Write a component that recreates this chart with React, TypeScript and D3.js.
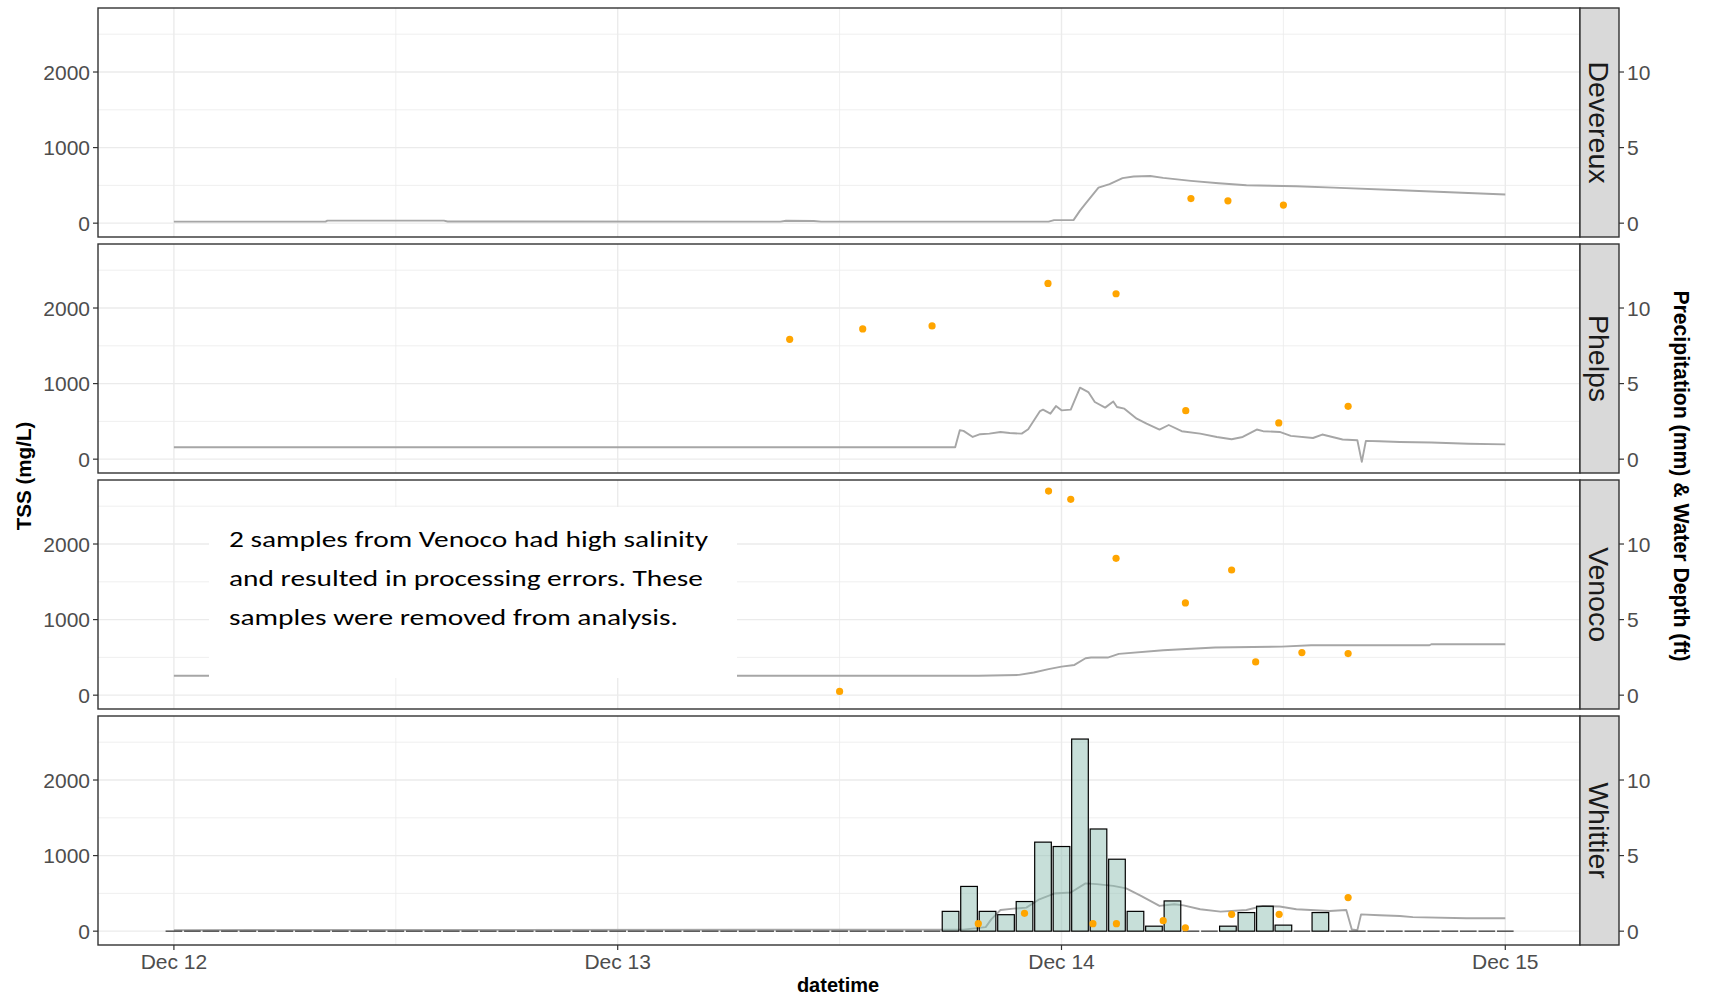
import React, { useEffect } from "react";
import * as d3 from "d3";

// time axis: hours after Dec 12 00:00
const BASE = Date.UTC(2019, 11, 12, 0, 0);
const hr = (h: number) => new Date(BASE + h * 3600000);

const sites = ["Devereux", "Phelps", "Venoco", "Whittier"];

// Water depth (ft) [hour, ft]
const depthDevereux: [number, number][] = [
  [0, 0.1], [8.2, 0.1], [8.3, 0.17], [14.6, 0.17], [14.8, 0.11], [32.8, 0.1], [33.1, 0.16], [34.6, 0.14],
  [35, 0.1], [47.3, 0.1], [47.6, 0.2], [48.65, 0.2], [49.0, 0.83], [49.3, 1.29], [50.0, 2.35], [50.6, 2.58],
  [51.3, 2.98], [51.9, 3.09], [52.8, 3.12], [53.5, 3.0], [55.0, 2.8], [56.5, 2.64], [58, 2.51], [60.7, 2.44],
  [62.7, 2.35], [66, 2.19], [69, 2.05], [72, 1.9],
];
const depthPhelps: [number, number][] = [
  [0, 0.79], [42.25, 0.79], [42.5, 1.91], [42.7, 1.87], [43.2, 1.47], [43.6, 1.65], [44.1, 1.69], [44.7, 1.8],
  [45.2, 1.73], [45.85, 1.69], [46.2, 1.98], [46.84, 3.18], [47.0, 3.28], [47.4, 3.01], [47.7, 3.51],
  [48.0, 3.23], [48.5, 3.28], [49.0, 4.73], [49.45, 4.44], [49.8, 3.78], [50.36, 3.41], [50.8, 3.82],
  [51.0, 3.45], [51.4, 3.34], [52.07, 2.68], [52.6, 2.35], [53.3, 1.96], [53.8, 2.26], [54.5, 1.85],
  [55.5, 1.69], [56.4, 1.47], [57.2, 1.32], [57.8, 1.47], [58.56, 1.96], [58.9, 1.85], [59.8, 1.8],
  [60.4, 1.54], [61.6, 1.4], [62.1, 1.63], [63.2, 1.3], [64.0, 1.25], [64.24, -0.18], [64.46, 1.21],
  [65.2, 1.19], [66.3, 1.14], [68, 1.1], [70, 1.02], [72, 0.98],
];
const depthVenoco: [number, number][] = [
  [0, 1.28], [43.5, 1.28], [45.7, 1.34], [46.5, 1.5], [47.3, 1.72], [48.0, 1.89], [48.7, 2.0], [49.3, 2.44],
  [49.6, 2.49], [50.5, 2.49], [51.1, 2.73], [53.5, 2.97], [56.3, 3.15], [59.9, 3.21], [61.5, 3.3],
  [67.9, 3.3], [68.0, 3.37], [72, 3.37],
];
const depthWhittier: [number, number][] = [
  [0, 0.07], [42.7, 0.1], [43.9, 0.27], [44.2, 0.78], [44.7, 1.4], [45.4, 1.49], [46.1, 1.56], [46.8, 2.11],
  [47.6, 2.49], [48.5, 2.56], [49.3, 3.16], [49.9, 3.11], [50.8, 3.0], [51.5, 2.83], [52.3, 2.33],
  [53.3, 1.67], [54.1, 1.78], [54.6, 1.71], [55.5, 1.45], [56.6, 1.29], [58.0, 1.4], [58.9, 1.67],
  [59.8, 1.63], [60.7, 1.45], [62.5, 1.33], [63.4, 1.4], [63.7, 0.11], [64.0, 0.07], [64.2, 1.11],
  [65.2, 1.05], [66.3, 1.0], [67.0, 0.93], [69.9, 0.85], [72, 0.85],
];

// TSS samples (mg/L) [hour, mg/L]
const tssDevereux: [number, number][] = [[55.0, 325], [57.0, 295], [60.0, 240]];
const tssPhelps: [number, number][] = [
  [33.3, 1586], [37.25, 1723], [41.0, 1763], [47.27, 2325], [50.95, 2189], [54.72, 642], [59.75, 479], [63.5, 699],
];
const tssVenoco: [number, number][] = [
  [36.0, 49], [47.3, 2700], [48.5, 2591], [50.95, 1811], [54.7, 1220], [57.2, 1656], [58.5, 440], [61.0, 563], [63.5, 550],
];
const tssWhittier: [number, number][] = [
  [43.5, 99], [46.0, 236], [49.7, 99], [50.97, 99], [53.5, 139], [54.7, 45], [57.2, 223], [59.77, 223], [63.5, 445],
];

// Hourly precipitation (mm) at Whittier, hour 0 .. 72
const precipStartHour = 0;
const precipWhittier: number[] = [
  0, 0, 0, 0, 0, 0, 0, 0, 0, 0, 0, 0,
  0, 0, 0, 0, 0, 0, 0, 0, 0, 0, 0, 0,
  0, 0, 0, 0, 0, 0, 0, 0, 0, 0, 0, 0,
  0, 0, 0, 0, 0, 0, 1.31, 2.96, 1.31, 1.09, 1.96, 5.89,
  5.6, 12.71, 6.76, 4.76, 1.31, 0.33, 2.0, 0, 0, 0.33, 1.23, 1.65,
  0.4, 0, 1.23, 0, 0, 0, 0, 0, 0, 0, 0, 0,
  0,
];

const leftTicks = [0, 1000, 2000];
const minorY = [500, 1500, 2500];
const rightTicks = [0, 5, 10];
const secFactor = 200;

const noteLines = [
  "2 samples from Venoco had high salinity",
  "and resulted in processing errors. These",
  "samples were removed from analysis.",
];
const noteWidths = [479, 474, 449];

const FONT = "'Liberation Sans', Arial, Helvetica, sans-serif";

export default function App() {
  useEffect(() => {
    document.body.style.margin = "0";
    document.body.style.overflow = "hidden";
  }, []);

  const W = 1716, H = 1000;
  const L = 98, R = 1580, stripW = 39;
  const panelTops = [8, 244, 480, 716];
  const PH = 229;

  const x = d3.scaleUtc().domain([hr(-4.105), hr(76.04)]).range([L, R]);
  const majorX = x.ticks(d3.utcDay.every(1)!);
  const minorX = d3.utcHour.every(12)!.range(x.domain()[0], x.domain()[1]).filter((d) => d.getUTCHours() === 12);
  const fmt = d3.utcFormat("%b %d");

  const panels = [
    { name: sites[0], depth: depthDevereux, tss: tssDevereux, precip: null as number[] | null },
    { name: sites[1], depth: depthPhelps, tss: tssPhelps, precip: null },
    { name: sites[2], depth: depthVenoco, tss: tssVenoco, precip: null },
    { name: sites[3], depth: depthWhittier, tss: tssWhittier, precip: precipWhittier },
  ];

  const grey92 = "#EBEBEB";
  const grey20 = "#333333";
  const grey30 = "#4D4D4D";

  return (
    <svg width={W} height={H} style={{ position: "absolute", left: 0, top: 0, background: "#fff" }} fontFamily={FONT}>
      <rect x={0} y={0} width={W} height={H} fill="#fff" />
      {panels.map((p, pi) => {
        const top = panelTops[pi];
        const y = d3.scaleLinear().domain([-183, 2847]).range([top + PH, top]);
        const line = d3
          .line<[number, number]>()
          .x((d) => x(hr(d[0])))
          .y((d) => y(d[1] * secFactor));
        return (
          <g key={p.name}>
            <rect x={L} y={top} width={R - L} height={PH} fill="#fff" />
            {minorY.map((v) => (
              <line key={"my" + v} x1={L} x2={R} y1={y(v)} y2={y(v)} stroke={grey92} strokeWidth={0.8} />
            ))}
            {minorX.map((d, i) => (
              <line key={"mx" + i} x1={x(d)} x2={x(d)} y1={top} y2={top + PH} stroke={grey92} strokeWidth={0.8} />
            ))}
            {leftTicks.map((v) => (
              <line key={"gy" + v} x1={L} x2={R} y1={y(v)} y2={y(v)} stroke={grey92} strokeWidth={1.4} />
            ))}
            {majorX.map((d, i) => (
              <line key={"gx" + i} x1={x(d)} x2={x(d)} y1={top} y2={top + PH} stroke={grey92} strokeWidth={1.4} />
            ))}
            <path d={line(p.depth) || ""} fill="none" stroke="#A6A6A6" strokeWidth={1.9} strokeLinejoin="round" />
            {p.precip &&
              p.precip.map((v, i) => {
                const h = precipStartHour + i;
                const x0 = x(hr(h - 0.45));
                const x1 = x(hr(h + 0.45));
                if (v === 0) {
                  return <line key={"b" + i} x1={x0} x2={x1} y1={y(0)} y2={y(0)} stroke="#3a3a3a" strokeWidth={1.3} />;
                }
                return (
                  <rect
                    key={"b" + i}
                    x={x0}
                    y={y(v * secFactor)}
                    width={x1 - x0}
                    height={y(0) - y(v * secFactor)}
                    fill="#8FC0B4"
                    fillOpacity={0.5}
                    stroke="#000"
                    strokeWidth={1.2}
                  />
                );
              })}
            {p.tss.map((d, i) => (
              <circle key={"p" + i} cx={x(hr(d[0]))} cy={y(d[1])} r={3.6} fill="#FFA500" />
            ))}
            {pi === 2 && (
              <g>
                <rect x={209} y={507} width={528} height={171} fill="#fff" />
                {noteLines.map((t, i) => (
                  <text
                    key={"n" + i}
                    x={229}
                    y={547 + i * 39}
                    fontFamily="Carlito, 'Open Sans', sans-serif"
                    fontSize={22.5}
                    fill="#000"
                    textLength={noteWidths[i]}
                    lengthAdjust="spacingAndGlyphs"
                  >
                    {t}
                  </text>
                ))}
              </g>
            )}
            <rect x={L} y={top} width={R - L} height={PH} fill="none" stroke={grey20} strokeWidth={1.4} />
            {/* strip */}
            <rect x={R} y={top} width={stripW} height={PH} fill="#D9D9D9" stroke={grey20} strokeWidth={1.4} />
            <text
              transform={`translate(${R + stripW / 2},${top + PH / 2}) rotate(90)`}
              textAnchor="middle"
              dy="0.36em"
              fontSize={28.5}
              fill="#1A1A1A"
            >
              {p.name}
            </text>
            {/* left axis */}
            {leftTicks.map((v) => (
              <g key={"lt" + v}>
                <line x1={L - 5} x2={L} y1={y(v)} y2={y(v)} stroke={grey20} strokeWidth={1.2} />
                <text x={L - 8} y={y(v)} dy="0.36em" textAnchor="end" fontSize={21} fill={grey30}>
                  {v}
                </text>
              </g>
            ))}
            {/* right axis */}
            {rightTicks.map((v) => (
              <g key={"rt" + v}>
                <line x1={R + stripW} x2={R + stripW + 5} y1={y(v * secFactor)} y2={y(v * secFactor)} stroke={grey20} strokeWidth={1.2} />
                <text x={R + stripW + 8} y={y(v * secFactor)} dy="0.36em" textAnchor="start" fontSize={21} fill={grey30}>
                  {v}
                </text>
              </g>
            ))}
            {pi === 3 &&
              majorX.map((d, i) => (
                <g key={"xt" + i}>
                  <line x1={x(d)} x2={x(d)} y1={top + PH} y2={top + PH + 5} stroke={grey20} strokeWidth={1.2} />
                  <text x={x(d)} y={top + PH + 24} textAnchor="middle" fontSize={21} fill={grey30}>
                    {fmt(d)}
                  </text>
                </g>
              ))}
          </g>
        );
      })}
      <text x={838} y={992} textAnchor="middle" fontSize={20} fontWeight="bold" fill="#000">
        datetime
      </text>
      <text transform={`translate(24,476) rotate(-90)`} textAnchor="middle" dy="0.36em" fontSize={20.6} fontWeight="bold" fill="#000">
        TSS (mg/L)
      </text>
      <text transform={`translate(1682,476) rotate(90)`} textAnchor="middle" dy="0.36em" fontSize={21.2} fontWeight="bold" fill="#000">
        Precipitation (mm) &amp; Water Depth (ft)
      </text>
    </svg>
  );
}
